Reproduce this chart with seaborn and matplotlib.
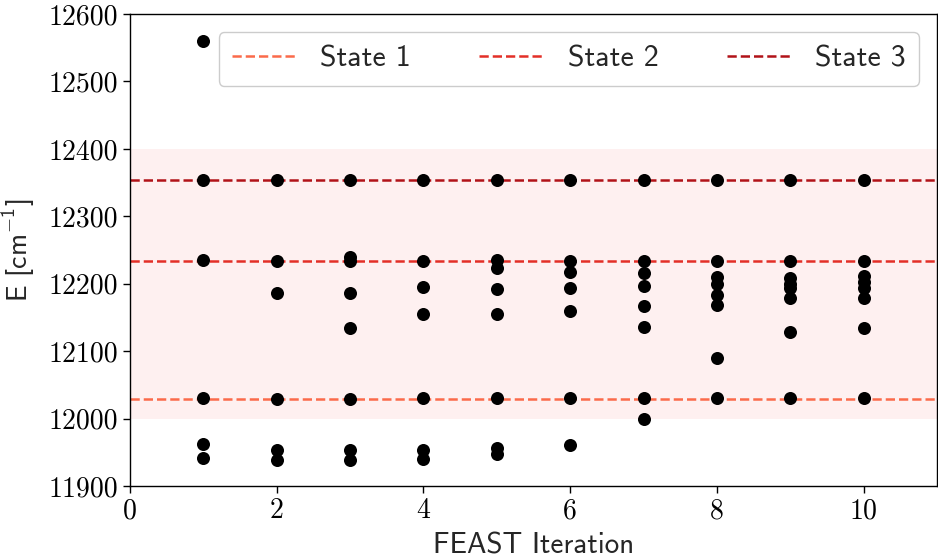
import numpy as np
import pandas as pd
import matplotlib
matplotlib.use("Agg")
import matplotlib.pyplot as plt
import seaborn as sns
from matplotlib.ticker import FuncFormatter
from matplotlib.font_manager import FontProperties

# ---- data ----
iteration = [1, 1, 1, 1, 1, 1,
             2, 2, 2, 2, 2, 2,
             3, 3, 3, 3, 3, 3, 3, 3,
             4, 4, 4, 4, 4, 4, 4,
             5, 5, 5, 5, 5, 5, 5, 5,
             6, 6, 6, 6, 6, 6, 6,
             7, 7, 7, 7, 7, 7, 7, 7,
             8, 8, 8, 8, 8, 8, 8, 8,
             9, 9, 9, 9, 9, 9, 9, 9,
             10, 10, 10, 10, 10, 10, 10, 10]
energy = [12560, 12354, 12235, 12031, 11963, 11941,
          12354, 12234, 12186, 12029, 11953, 11939,
          12354, 12240, 12233, 12186, 12134, 12029, 11954, 11939,
          12354, 12234, 12195, 12155, 12030, 11954, 11940,
          12354, 12235, 12223, 12192, 12155, 12030, 11956, 11948,
          12354, 12234, 12217, 12193, 12159, 12030, 11961,
          12354, 12234, 12216, 12196, 12167, 12136, 12030, 12000,
          12354, 12234, 12210, 12199, 12183, 12168, 12090, 12030,
          12354, 12234, 12208, 12199, 12193, 12179, 12129, 12030,
          12354, 12234, 12211, 12203, 12193, 12179, 12135, 12030]
state_labels = ["State 1", "State 2", "State 3"]
state_energies = [12029, 12234, 12354]
state_colors = ["#fb6a4a", "#e32f27", "#b11218"]
window = [12000, 12400]
xticks = [0, 2, 4, 6, 8, 10]
yticks = [11900, 12000, 12100, 12200, 12300, 12400, 12500, 12600]

df = pd.DataFrame({"iteration": iteration, "energy": energy})

sns.set_style("ticks")
plt.rcParams["font.family"] = ["cmss10", "DejaVu Sans"]
plt.rcParams["mathtext.fontset"] = "custom"
plt.rcParams["mathtext.rm"] = "cmss10"
plt.rcParams["mathtext.sf"] = "cmss10"
plt.rcParams["mathtext.it"] = "cmss10"
plt.rcParams["mathtext.fallback"] = "cm"
plt.rcParams["axes.unicode_minus"] = False

sans = ["cmss10", "DejaVu Sans"]
serif = ["cmr10", "DejaVu Serif"]

fig, ax = plt.subplots(figsize=(9.38, 5.56), dpi=100)
fig.subplots_adjust(left=0.1386, right=0.999, top=0.9748, bottom=0.1259)

ax.axhspan(window[0], window[1], color="#fdd0d0", alpha=0.3, lw=0, zorder=0)

for lab, e, c in zip(state_labels, state_energies, state_colors):
    ax.axhline(e, color=c, ls="--", lw=1.8, zorder=1, label=lab)

sns.scatterplot(data=df, x="iteration", y="energy", color="black",
                s=88, edgecolor="black", linewidth=0, ax=ax, zorder=3)

ax.set_xlim(0, 11)
ax.set_ylim(11900, 12600)
ax.set_xticks(xticks)
ax.set_yticks(yticks)
fmt = FuncFormatter(lambda v, p: "%d" % v)
ax.xaxis.set_major_formatter(fmt)
ax.yaxis.set_major_formatter(fmt)
ax.tick_params(labelsize=20, length=5, width=1, colors="black")
for lbl in ax.get_xticklabels() + ax.get_yticklabels():
    lbl.set_family(serif)
for sp in ax.spines.values():
    sp.set_color("black")
    sp.set_linewidth(1)

ax.set_xlabel("FEAST Iteration", fontsize=21, labelpad=6, family=sans)
ax.set_ylabel(r"E [cm$^{-1}$]", fontsize=20, labelpad=8, family=sans)

ax.legend(loc="upper right", ncol=3, handlelength=2.15,
          prop=FontProperties(family=sans, size=21.5),
          columnspacing=2.3, frameon=True, fancybox=True, framealpha=1,
          edgecolor="#cccccc", borderpad=0.45, borderaxespad=0.6)

fig.savefig("out.png", dpi=100)
